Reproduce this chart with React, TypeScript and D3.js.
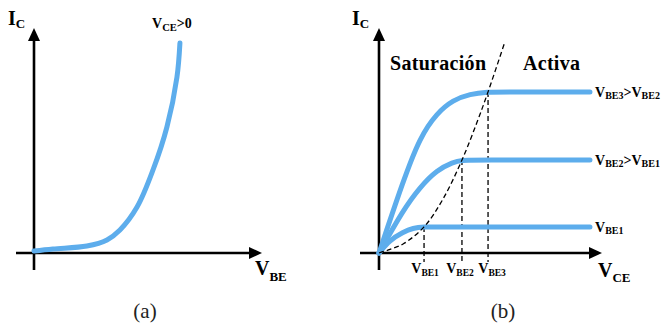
import React from "react";
import * as d3 from "d3";

// Panel (a): transfer characteristic I_C vs V_BE
const vbeA = [0, 0.83, 2.32, 3.2, 3.77, 4.52, 5.22, 5.83, 6.27, 6.4];
const icA = [0.09, 0.18, 0.31, 0.58, 1.02, 2.04, 3.69, 5.6, 7.82, 9.33];

// Panel (b): output characteristics I_C vs V_CE for three V_BE values
const vceLow = [0, 0.49, 1.08, 1.52, 2.02, 2.6, 9.46];
const icLow = [0, 0.58, 0.93, 1.11, 1.16, 1.16, 1.16];
const vceMid = [0, 1.08, 1.84, 2.6, 3.32, 3.72, 4.3, 9.46];
const icMid = [0, 1.91, 2.93, 3.69, 4.04, 4.13, 4.13, 4.13];
const vceHigh = [0, 1.08, 1.84, 2.6, 3.32, 4.08, 4.89, 5.5, 9.46];
const icHigh = [0, 3.2, 5.16, 6.22, 6.8, 7.07, 7.16, 7.16, 7.16];

// Saturation / active boundary (dashed)
const vceEdge = [0, 0.49, 1.08, 2.02, 2.87, 3.72, 4.39, 4.89, 5.65];
const icEdge = [0, 0.16, 0.4, 1.16, 2.4, 4.13, 5.8, 7.16, 9.4];

// Knee points where each curve meets the boundary
const kneeVce = [2.02, 3.72, 4.89];
const kneeIc = [1.16, 4.13, 7.16];
const kneeSubs = ["BE1", "BE2", "BE3"];
const curveCompare = [null, "BE1", "BE2"];

const regionNames = ["Saturación", "Activa"];
const panelTags = ["(a)", "(b)"];

const BLUE = "#5DADEC";
const FONT = "Liberation Serif";

// horizontal nudge of the knee labels so neighbours do not collide
const KNEE_LABEL_SHIFT = [1, -2, 4];

type P = [number, number];
const zip = (xs: number[], ys: number[]): P[] => xs.map((x, i) => [x, ys[i]]);

function Axes({ ox, oy, xEnd, yTop, xStart, yBottom }: { ox: number; oy: number; xEnd: number; yTop: number; xStart: number; yBottom: number }) {
  const head = 13;
  const half = 6;
  return (
    <g>
      <line x1={xStart} y1={oy} x2={xEnd - head + 1} y2={oy} stroke="#000" strokeWidth={2.6} />
      <polygon points={`${xEnd},${oy} ${xEnd - head},${oy - half} ${xEnd - head},${oy + half}`} fill="#000" />
      <line x1={ox} y1={yBottom} x2={ox} y2={yTop + head - 1} stroke="#000" strokeWidth={2.6} />
      <polygon points={`${ox},${yTop} ${ox - half},${yTop + head} ${ox + half},${yTop + head}`} fill="#000" />
    </g>
  );
}

function SubLabel({ x, y, main, sub, size, subSize, dy, anchor = "start" }: { x: number; y: number; main: string; sub: string; size: number; subSize: number; dy: number; anchor?: string }) {
  return (
    <text x={x} y={y} fontFamily={FONT} fontWeight="bold" fontSize={size} textAnchor={anchor as any}>
      {main}
      <tspan fontSize={subSize} dy={dy}>{sub}</tspan>
    </text>
  );
}

export default function App() {
  const xA = d3.scaleLinear().domain([0, 10]).range([34, 262]);
  const yA = d3.scaleLinear().domain([0, 10]).range([253, 28]);
  const xB = d3.scaleLinear().domain([0, 10]).range([379, 602]);
  const yB = d3.scaleLinear().domain([0, 10]).range([253, 28]);

  const lineA = d3.line<P>().x((d) => xA(d[0])).y((d) => yA(d[1])).curve(d3.curveCatmullRom.alpha(0.5));
  const lineB = d3.line<P>().x((d) => xB(d[0])).y((d) => yB(d[1])).curve(d3.curveBasis);
  const edge = d3.line<P>().x((d) => xB(d[0])).y((d) => yB(d[1])).curve(d3.curveCatmullRom.alpha(0.5));

  const curvesB = [zip(vceLow, icLow), zip(vceMid, icMid), zip(vceHigh, icHigh)];

  return (
    <svg width={661} height={326} style={{ position: "absolute", left: 0, top: 0, background: "#fff" }}>
      {/* Panel (a) */}
      <Axes ox={xA(0)} oy={yA(0)} xEnd={262} yTop={28} xStart={16} yBottom={270} />
      <path d={lineA(zip(vbeA, icA)) || ""} fill="none" stroke={BLUE} strokeWidth={5} strokeLinecap="round" />
      <SubLabel x={8} y={25} main="I" sub="C" size={20} subSize={13} dy={3} />
      <text x={152} y={28} fontFamily={FONT} fontWeight="bold" fontSize={14}>
        V<tspan fontSize={10.5} dy={3}>CE</tspan>
        <tspan dy={-3}>&gt;0</tspan>
      </text>
      <SubLabel x={255} y={275} main="V" sub="BE" size={20} subSize={13} dy={6} />
      <text x={145} y={318} fontFamily={FONT} fontSize={21} textAnchor="middle" fill="#222">{panelTags[0]}</text>

      {/* Panel (b) */}
      <Axes ox={xB(0)} oy={yB(0)} xEnd={602} yTop={28} xStart={360} yBottom={270} />
      {kneeVce.map((v, i) => (
        <line key={`v${i}`} x1={xB(v)} x2={xB(v)} y1={yB(kneeIc[i])} y2={262} stroke="#000" strokeWidth={1.3} strokeDasharray="5,3" />
      ))}
      {curvesB.map((c, i) => (
        <path key={`c${i}`} d={lineB(c) || ""} fill="none" stroke={BLUE} strokeWidth={5} strokeLinecap="round" />
      ))}
      <path d={edge(zip(vceEdge, icEdge)) || ""} fill="none" stroke="#000" strokeWidth={1.3} strokeDasharray="5,3" />
      <SubLabel x={352} y={25} main="I" sub="C" size={20} subSize={13} dy={3} />
      <SubLabel x={598} y={277} main="V" sub="CE" size={20} subSize={13} dy={5} />
      <text x={390} y={70} fontFamily={FONT} fontWeight="bold" fontSize={20} textLength={96}>{regionNames[0]}</text>
      <text x={523} y={70} fontFamily={FONT} fontWeight="bold" fontSize={20} textLength={57}>{regionNames[1]}</text>
      {kneeVce.map((v, i) => (
        <SubLabel key={`k${i}`} x={xB(v) + KNEE_LABEL_SHIFT[i]} y={273} main="V" sub={kneeSubs[i]} size={14} subSize={9.5} dy={3} anchor="middle" />
      ))}
      {kneeIc.map((ic, i) => (
        <text key={`r${i}`} x={595} y={yB(ic) + 5} fontFamily={FONT} fontWeight="bold" fontSize={14}>
          V<tspan fontSize={10} dy={2}>{kneeSubs[i]}</tspan>
          {curveCompare[i] && (
            <>
              <tspan dy={-2}>&gt;V</tspan>
              <tspan fontSize={10} dy={2}>{curveCompare[i]}</tspan>
            </>
          )}
        </text>
      ))}
      <text x={503} y={318} fontFamily={FONT} fontSize={21} textAnchor="middle" fill="#222">{panelTags[1]}</text>
    </svg>
  );
}
